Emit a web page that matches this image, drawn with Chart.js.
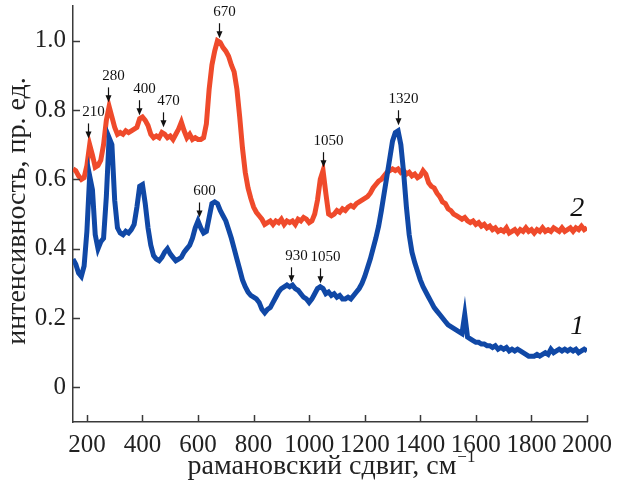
<!DOCTYPE html>
<html>
<head>
<meta charset="utf-8">
<script src="https://cdn.jsdelivr.net/npm/chart.js@4.4.1/dist/chart.umd.min.js"></script>
<style>
html,body{margin:0;padding:0;background:#fff;}
#wrap{width:617px;height:488px;position:relative;}
</style>
</head>
<body>
<div id="wrap"><canvas id="c" width="617" height="488"></canvas></div>
<script>
// ---- data ----
const shifts = [150,160,170,180,190,200,210,220,230,240,250,260,270,280,290,300,310,320,330,340,350,360,370,380,390,400,410,420,430,440,450,460,470,480,490,500,510,520,530,540,550,560,570,580,590,600,610,620,630,640,650,660,670,680,690,700,710,720,730,740,750,760,770,780,790,800,810,820,830,840,850,860,870,880,890,900,910,920,930,940,950,960,970,980,990,1000,1010,1020,1030,1040,1050,1060,1070,1080,1090,1100,1110,1120,1130,1140,1150,1160,1170,1180,1190,1200,1210,1220,1230,1240,1250,1260,1270,1280,1290,1300,1310,1320,1330,1340,1350,1360,1370,1380,1390,1400,1410,1420,1430,1440,1450,1460,1470,1480,1490,1500,1510,1520,1530,1540,1550,1560,1570,1580,1590,1600,1610,1620,1630,1640,1650,1660,1670,1680,1690,1700,1710,1720,1730,1740,1750,1760,1770,1780,1790,1800,1810,1820,1830,1840,1850,1860,1870,1880,1890,1900,1910,1920,1930,1940,1950,1960,1970,1980,1990,2000];

// curve 2 (red)
const series2 = [0.63,0.625,0.61,0.60,0.605,0.64,0.70,0.67,0.635,0.64,0.655,0.70,0.77,0.81,0.78,0.75,0.73,0.735,0.73,0.74,0.735,0.74,0.745,0.75,0.775,0.78,0.77,0.755,0.73,0.72,0.725,0.72,0.735,0.73,0.72,0.725,0.715,0.73,0.745,0.765,0.74,0.72,0.73,0.715,0.72,0.715,0.715,0.72,0.76,0.86,0.93,0.97,1.0,0.995,0.98,0.97,0.955,0.93,0.91,0.86,0.78,0.69,0.62,0.575,0.545,0.52,0.505,0.495,0.485,0.47,0.475,0.48,0.47,0.48,0.475,0.485,0.47,0.48,0.475,0.48,0.47,0.485,0.48,0.49,0.485,0.475,0.48,0.50,0.54,0.60,0.625,0.56,0.50,0.495,0.50,0.51,0.505,0.515,0.51,0.52,0.525,0.52,0.53,0.535,0.54,0.545,0.55,0.56,0.575,0.585,0.595,0.60,0.61,0.62,0.625,0.63,0.625,0.63,0.62,0.625,0.615,0.62,0.61,0.615,0.605,0.61,0.625,0.615,0.59,0.58,0.575,0.56,0.55,0.535,0.53,0.515,0.51,0.50,0.495,0.49,0.485,0.49,0.48,0.475,0.48,0.47,0.475,0.465,0.47,0.46,0.465,0.455,0.46,0.45,0.455,0.45,0.46,0.445,0.45,0.455,0.445,0.455,0.45,0.46,0.45,0.455,0.445,0.455,0.45,0.46,0.45,0.455,0.45,0.46,0.455,0.45,0.46,0.45,0.455,0.46,0.45,0.46,0.455,0.465,0.455,0.46];

// curve 1 (blue)
const series1 = [0.37,0.355,0.33,0.32,0.35,0.45,0.61,0.57,0.44,0.40,0.42,0.43,0.55,0.72,0.70,0.54,0.46,0.445,0.44,0.45,0.445,0.455,0.47,0.52,0.58,0.585,0.53,0.46,0.41,0.38,0.37,0.365,0.375,0.39,0.40,0.385,0.375,0.365,0.37,0.375,0.39,0.40,0.41,0.43,0.46,0.48,0.46,0.445,0.45,0.49,0.53,0.535,0.53,0.51,0.495,0.48,0.455,0.43,0.40,0.37,0.34,0.31,0.29,0.275,0.265,0.26,0.255,0.245,0.225,0.215,0.225,0.23,0.245,0.26,0.275,0.285,0.29,0.295,0.29,0.295,0.285,0.28,0.27,0.26,0.255,0.245,0.255,0.27,0.285,0.29,0.285,0.27,0.275,0.265,0.27,0.26,0.265,0.255,0.255,0.26,0.255,0.265,0.275,0.285,0.30,0.32,0.345,0.37,0.40,0.43,0.465,0.51,0.56,0.61,0.66,0.71,0.735,0.74,0.70,0.62,0.52,0.44,0.39,0.36,0.335,0.31,0.29,0.275,0.26,0.245,0.23,0.22,0.21,0.20,0.19,0.18,0.175,0.17,0.165,0.16,0.155,0.21,0.145,0.14,0.135,0.13,0.13,0.125,0.125,0.12,0.12,0.115,0.12,0.11,0.115,0.11,0.115,0.105,0.11,0.105,0.11,0.105,0.10,0.095,0.09,0.09,0.09,0.095,0.09,0.095,0.10,0.095,0.11,0.10,0.105,0.11,0.105,0.11,0.105,0.11,0.105,0.11,0.10,0.105,0.11,0.105];

const xTickValues = [200,400,600,800,1000,1200,1400,1600,1800,2000];
const yTickValues = [0,0.2,0.4,0.6,0.8,1.0];
const yTickLabels = ['0','0.2','0.4','0.6','0.8','1.0'];

const peakLabels = ['210','280','400','470','670','600','1050','1320','930','1050'];
const peakX = [205,277,389,475,677,605,1051,1318,936,1040];
const peakY = [0.718,0.822,0.785,0.75,1.007,0.49,0.635,0.756,0.303,0.30];

const curveNames = ['1','2'];
const curveNameX = [1965,1965];
const curveNameY = [0.174,0.516];

const xTitle = 'рамановский сдвиг, см';
const xTitleSup = '−1';
const yTitle = 'интенсивность, пр. ед.';

// ---- chart ----
const SERIF = '"Liberation Serif", "Times New Roman", serif';
const AXIS = '#3a3a3a';

const decor = {
  id: 'decor',
  afterDraw(chart) {
    const ctx = chart.ctx;
    const xs = chart.scales.x, ys = chart.scales.y;
    const ca = chart.chartArea;
    ctx.save();
    // inward ticks
    ctx.strokeStyle = AXIS; ctx.lineWidth = 1.5;
    xTickValues.forEach(v => {
      const p = Math.round(xs.getPixelForValue(v)) + 0.5;
      ctx.beginPath(); ctx.moveTo(p, ca.bottom); ctx.lineTo(p, ca.bottom - 7); ctx.stroke();
    });
    yTickValues.forEach(v => {
      const p = Math.round(ys.getPixelForValue(v)) + 0.5;
      ctx.beginPath(); ctx.moveTo(ca.left, p); ctx.lineTo(ca.left + 7, p); ctx.stroke();
    });
    // peak annotations
    ctx.fillStyle = '#111'; ctx.strokeStyle = '#111'; ctx.lineWidth = 1.2;
    ctx.font = '15px ' + SERIF;
    ctx.textAlign = 'center'; ctx.textBaseline = 'middle';
    peakLabels.forEach((t, i) => {
      const px = Math.round(xs.getPixelForValue(peakX[i])) + 0.5;
      const py = ys.getPixelForValue(peakY[i]);
      ctx.beginPath(); ctx.moveTo(px, py - 15); ctx.lineTo(px, py - 5); ctx.stroke();
      ctx.beginPath(); ctx.moveTo(px - 3, py - 7); ctx.lineTo(px + 3, py - 7); ctx.lineTo(px, py); ctx.closePath(); ctx.fill();
      ctx.fillText(t, px + 5, py - 26);
    });
    // curve names
    ctx.font = 'italic 28px ' + SERIF;
    curveNames.forEach((t, i) => {
      ctx.fillText(t, xs.getPixelForValue(curveNameX[i]), ys.getPixelForValue(curveNameY[i]));
    });
    // axis titles
    ctx.fillStyle = '#222';
    ctx.textBaseline = 'alphabetic';
    ctx.font = '28px ' + SERIF;
    const w1 = ctx.measureText(xTitle).width;
    ctx.font = '17px ' + SERIF;
    const w2 = ctx.measureText(xTitleSup).width;
    const cx = 331, by = 474;
    const x0 = cx - (w1 + w2) / 2;
    ctx.textAlign = 'left';
    ctx.font = '28px ' + SERIF;
    ctx.fillText(xTitle, x0, by);
    ctx.font = '17px ' + SERIF;
    ctx.fillText(xTitleSup, x0 + w1 + 1, by - 12);
    ctx.save();
    ctx.translate(25, 211);
    ctx.rotate(-Math.PI / 2);
    ctx.textAlign = 'center';
    ctx.font = '28px ' + SERIF;
    ctx.fillText(yTitle, 0, 0);
    ctx.restore();
    ctx.restore();
  }
};

new Chart(document.getElementById('c'), {
  type: 'line',
  data: {
    datasets: [
      { label: '1', data: shifts.map((x, i) => ({x, y: series1[i]})), borderColor: '#1048a6', borderWidth: 5, pointRadius: 0, tension: 0, fill: false },
      { label: '2', data: shifts.map((x, i) => ({x, y: series2[i]})), borderColor: '#ef4a2b', borderWidth: 5, pointRadius: 0, tension: 0, fill: false }
    ]
  },
  options: {
    responsive: false,
    animation: false,
    devicePixelRatio: 1,
    layout: { padding: { left: 0, right: 30, top: 6, bottom: 0 } },
    plugins: { legend: { display: false }, tooltip: { enabled: false }, title: { display: false } },
    scales: {
      x: {
        type: 'linear', min: 150, max: 2000,
        afterBuildTicks: s => { s.ticks = xTickValues.map(v => ({value: v})); },
        afterFit: s => { s.height = 66; s.paddingLeft = 0; s.paddingRight = 0; },
        grid: { display: true, drawOnChartArea: false, drawTicks: false },
        border: { display: true, color: AXIS, width: 1.5 },
        ticks: { font: { family: SERIF, size: 25 }, color: '#222', padding: 8, maxRotation: 0, autoSkip: false, callback: v => String(v) }
      },
      y: {
        type: 'linear', min: -0.1, max: 1.1,
        afterBuildTicks: s => { s.ticks = yTickValues.map(v => ({value: v})); },
        afterFit: s => { s.width = 73; s.paddingTop = 0; s.paddingBottom = 0; },
        grid: { display: true, drawOnChartArea: false, drawTicks: false },
        border: { display: true, color: AXIS, width: 1.5 },
        ticks: { font: { family: SERIF, size: 25 }, color: '#222', padding: 7, autoSkip: false,
          callback: (v, i) => yTickLabels[yTickValues.findIndex(t => Math.abs(t - v) < 1e-9)] }
      }
    }
  },
  plugins: [decor]
});
</script>
</body>
</html>
